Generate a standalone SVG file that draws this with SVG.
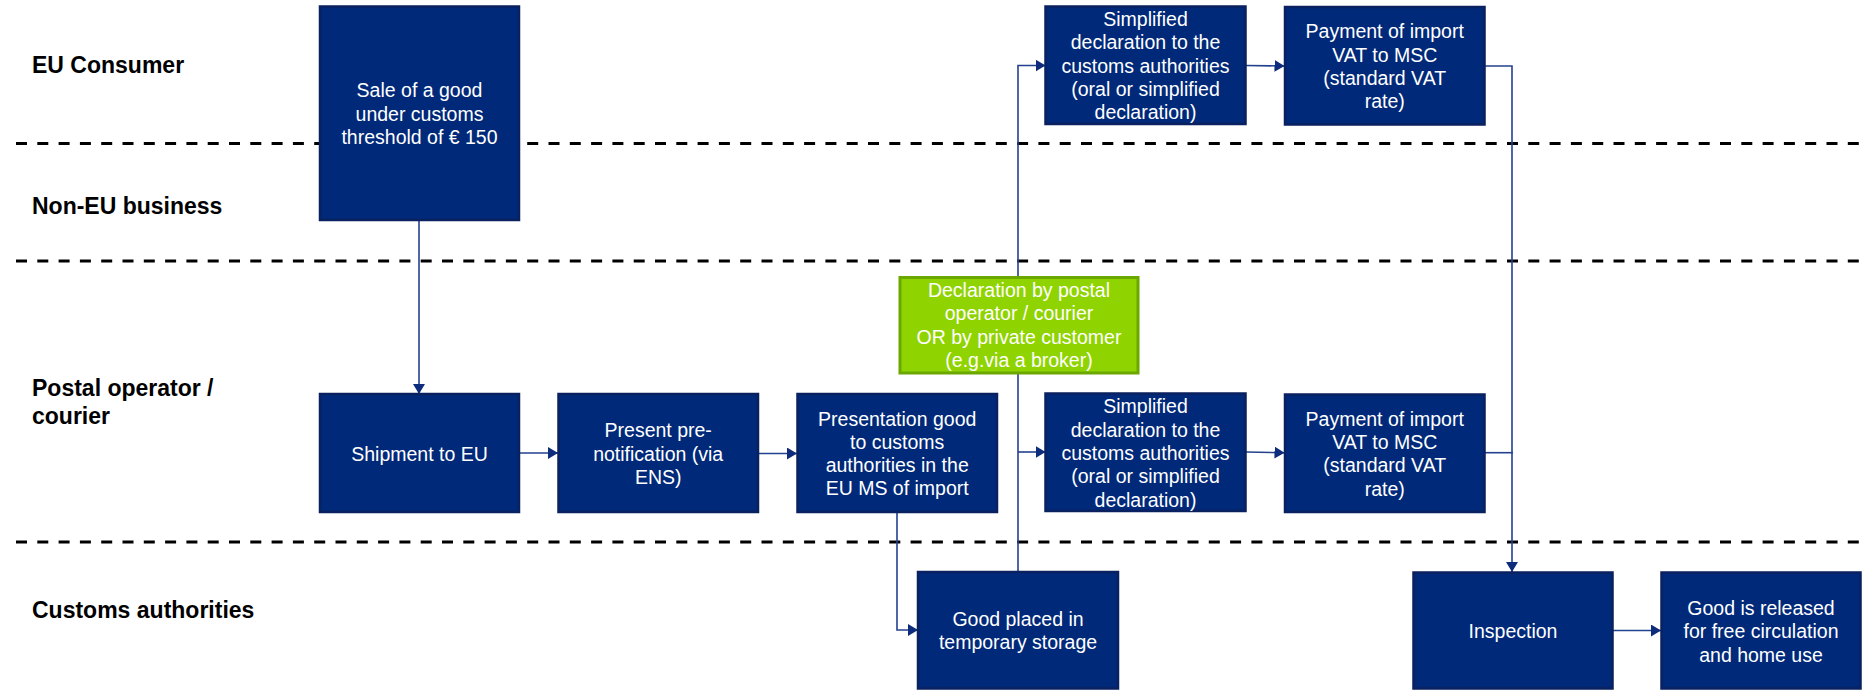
<svg xmlns="http://www.w3.org/2000/svg" width="1867" height="690" viewBox="0 0 1867 690">
  <style>
    .lane { font-family: "Liberation Sans", Arial, sans-serif; font-size: 23px; font-weight: bold; fill: #000; }
    .sep { stroke: #000; stroke-width: 3; stroke-dasharray: 11 10.3; fill: none; }
    .box { fill: #00297A; stroke: #0A215F; stroke-width: 2.5; }
    .gbox { fill: #8FD400; stroke: #6AA800; stroke-width: 3; }
    .lbl { font-family: "Liberation Sans", Arial, sans-serif; font-size: 19.5px; fill: #fff; text-anchor: middle; }
    .edge { stroke: #23418F; stroke-width: 1.6; fill: none; }
  </style>
  <defs>
    <marker id="arrow" markerUnits="userSpaceOnUse" markerWidth="10" markerHeight="12" refX="10" refY="6" orient="auto">
      <path d="M0,0 L10,6 L0,12 z" fill="#0E2C7C"/>
    </marker>
  </defs>

  <rect width="1867" height="690" fill="#fff"/>

  <!-- swimlane separators -->
  <g id="separators">
    <line class="sep" x1="16" y1="143.5" x2="1867" y2="143.5"/>
    <line class="sep" x1="16" y1="261" x2="1867" y2="261"/>
    <line class="sep" x1="16" y1="542" x2="1867" y2="542"/>
  </g>

  <!-- swimlane titles -->
  <g id="lane-labels">
    <text class="lane" x="32" y="73">EU Consumer</text>
    <text class="lane" x="32" y="214">Non-EU business</text>
    <text class="lane" x="32" y="396">Postal operator /</text>
    <text class="lane" x="32" y="424">courier</text>
    <text class="lane" x="32" y="618">Customs authorities</text>
  </g>

  <!-- connectors -->
  <g id="connectors">
    <line class="edge" x1="419" y1="220" x2="419" y2="394" marker-end="url(#arrow)"/>
    <line class="edge" x1="519" y1="453" x2="558" y2="453" marker-end="url(#arrow)"/>
    <line class="edge" x1="758" y1="453.5" x2="797" y2="453.5" marker-end="url(#arrow)"/>
    <polyline class="edge" points="897,512 897,630 918,630" marker-end="url(#arrow)"/>
    <polyline class="edge" points="1018,572 1018,65.5 1045.5,65.5" marker-end="url(#arrow)"/>
    <polyline class="edge" points="1018,452 1045.5,452" marker-end="url(#arrow)"/>
    <line class="edge" x1="1245.5" y1="65.5" x2="1284.5" y2="66" marker-end="url(#arrow)"/>
    <line class="edge" x1="1245.5" y1="452" x2="1284.5" y2="452.7" marker-end="url(#arrow)"/>
    <polyline class="edge" points="1484.5,66 1512,66 1512,572" marker-end="url(#arrow)"/>
    <line class="edge" x1="1484.5" y1="452.7" x2="1513" y2="452.7"/>
    <line class="edge" x1="1612.5" y1="630.5" x2="1661" y2="630.5" marker-end="url(#arrow)"/>
  </g>

  <!-- process steps -->
  <g id="sale">
    <rect class="box" x="320" y="6.5" width="199" height="213.5"/>
    <text class="lbl" x="419.5" y="97.3">Sale of a good</text>
    <text class="lbl" x="419.5" y="120.6">under customs</text>
    <text class="lbl" x="419.5" y="143.9">threshold of € 150</text>
  </g>

  <g id="simplified-top">
    <rect class="box" x="1045.5" y="6.5" width="200" height="117.5"/>
    <text class="lbl" x="1145.5" y="26">Simplified</text>
    <text class="lbl" x="1145.5" y="49.3">declaration to the</text>
    <text class="lbl" x="1145.5" y="72.6">customs authorities</text>
    <text class="lbl" x="1145.5" y="95.9">(oral or simplified</text>
    <text class="lbl" x="1145.5" y="119.2">declaration)</text>
  </g>

  <g id="payment-top">
    <rect class="box" x="1285" y="7" width="199.5" height="117.5"/>
    <text class="lbl" x="1384.7" y="38.3">Payment of import</text>
    <text class="lbl" x="1384.7" y="61.6">VAT to MSC</text>
    <text class="lbl" x="1384.7" y="84.9">(standard VAT</text>
    <text class="lbl" x="1384.7" y="108.2">rate)</text>
  </g>

  <g id="declaration">
    <rect class="gbox" x="900" y="277.5" width="238" height="95.5"/>
    <text class="lbl" x="1019" y="297">Declaration by postal</text>
    <text class="lbl" x="1019" y="320.3">operator / courier</text>
    <text class="lbl" x="1019" y="343.6">OR by private customer</text>
    <text class="lbl" x="1019" y="366.9">(e.g.via a broker)</text>
  </g>

  <g id="shipment">
    <rect class="box" x="320" y="394" width="199" height="118"/>
    <text class="lbl" x="419.5" y="460.5">Shipment to EU</text>
  </g>

  <g id="prenotification">
    <rect class="box" x="558.5" y="394" width="199.5" height="118"/>
    <text class="lbl" x="658.2" y="437.3">Present pre-</text>
    <text class="lbl" x="658.2" y="460.6">notification (via</text>
    <text class="lbl" x="658.2" y="483.9">ENS)</text>
  </g>

  <g id="presentation">
    <rect class="box" x="797.5" y="394" width="199.5" height="118"/>
    <text class="lbl" x="897.2" y="425.5">Presentation good</text>
    <text class="lbl" x="897.2" y="448.8">to customs</text>
    <text class="lbl" x="897.2" y="472.1">authorities in the</text>
    <text class="lbl" x="897.2" y="495.4">EU MS of import</text>
  </g>

  <g id="simplified-mid">
    <rect class="box" x="1045.5" y="393.5" width="200" height="117.5"/>
    <text class="lbl" x="1145.5" y="413.3">Simplified</text>
    <text class="lbl" x="1145.5" y="436.6">declaration to the</text>
    <text class="lbl" x="1145.5" y="459.9">customs authorities</text>
    <text class="lbl" x="1145.5" y="483.2">(oral or simplified</text>
    <text class="lbl" x="1145.5" y="506.5">declaration)</text>
  </g>

  <g id="payment-mid">
    <rect class="box" x="1285" y="394.5" width="199.5" height="117.5"/>
    <text class="lbl" x="1384.7" y="425.7">Payment of import</text>
    <text class="lbl" x="1384.7" y="449">VAT to MSC</text>
    <text class="lbl" x="1384.7" y="472.3">(standard VAT</text>
    <text class="lbl" x="1384.7" y="495.6">rate)</text>
  </g>

  <g id="storage">
    <rect class="box" x="918" y="572" width="200" height="116.5"/>
    <text class="lbl" x="1018" y="625.7">Good placed in</text>
    <text class="lbl" x="1018" y="649">temporary storage</text>
  </g>

  <g id="inspection">
    <rect class="box" x="1413.5" y="572.5" width="199" height="116"/>
    <text class="lbl" x="1513" y="638.3">Inspection</text>
  </g>

  <g id="release">
    <rect class="box" x="1661.5" y="572.5" width="199" height="116"/>
    <text class="lbl" x="1761" y="615">Good is released</text>
    <text class="lbl" x="1761" y="638.3">for free circulation</text>
    <text class="lbl" x="1761" y="661.6">and home use</text>
  </g>
</svg>
